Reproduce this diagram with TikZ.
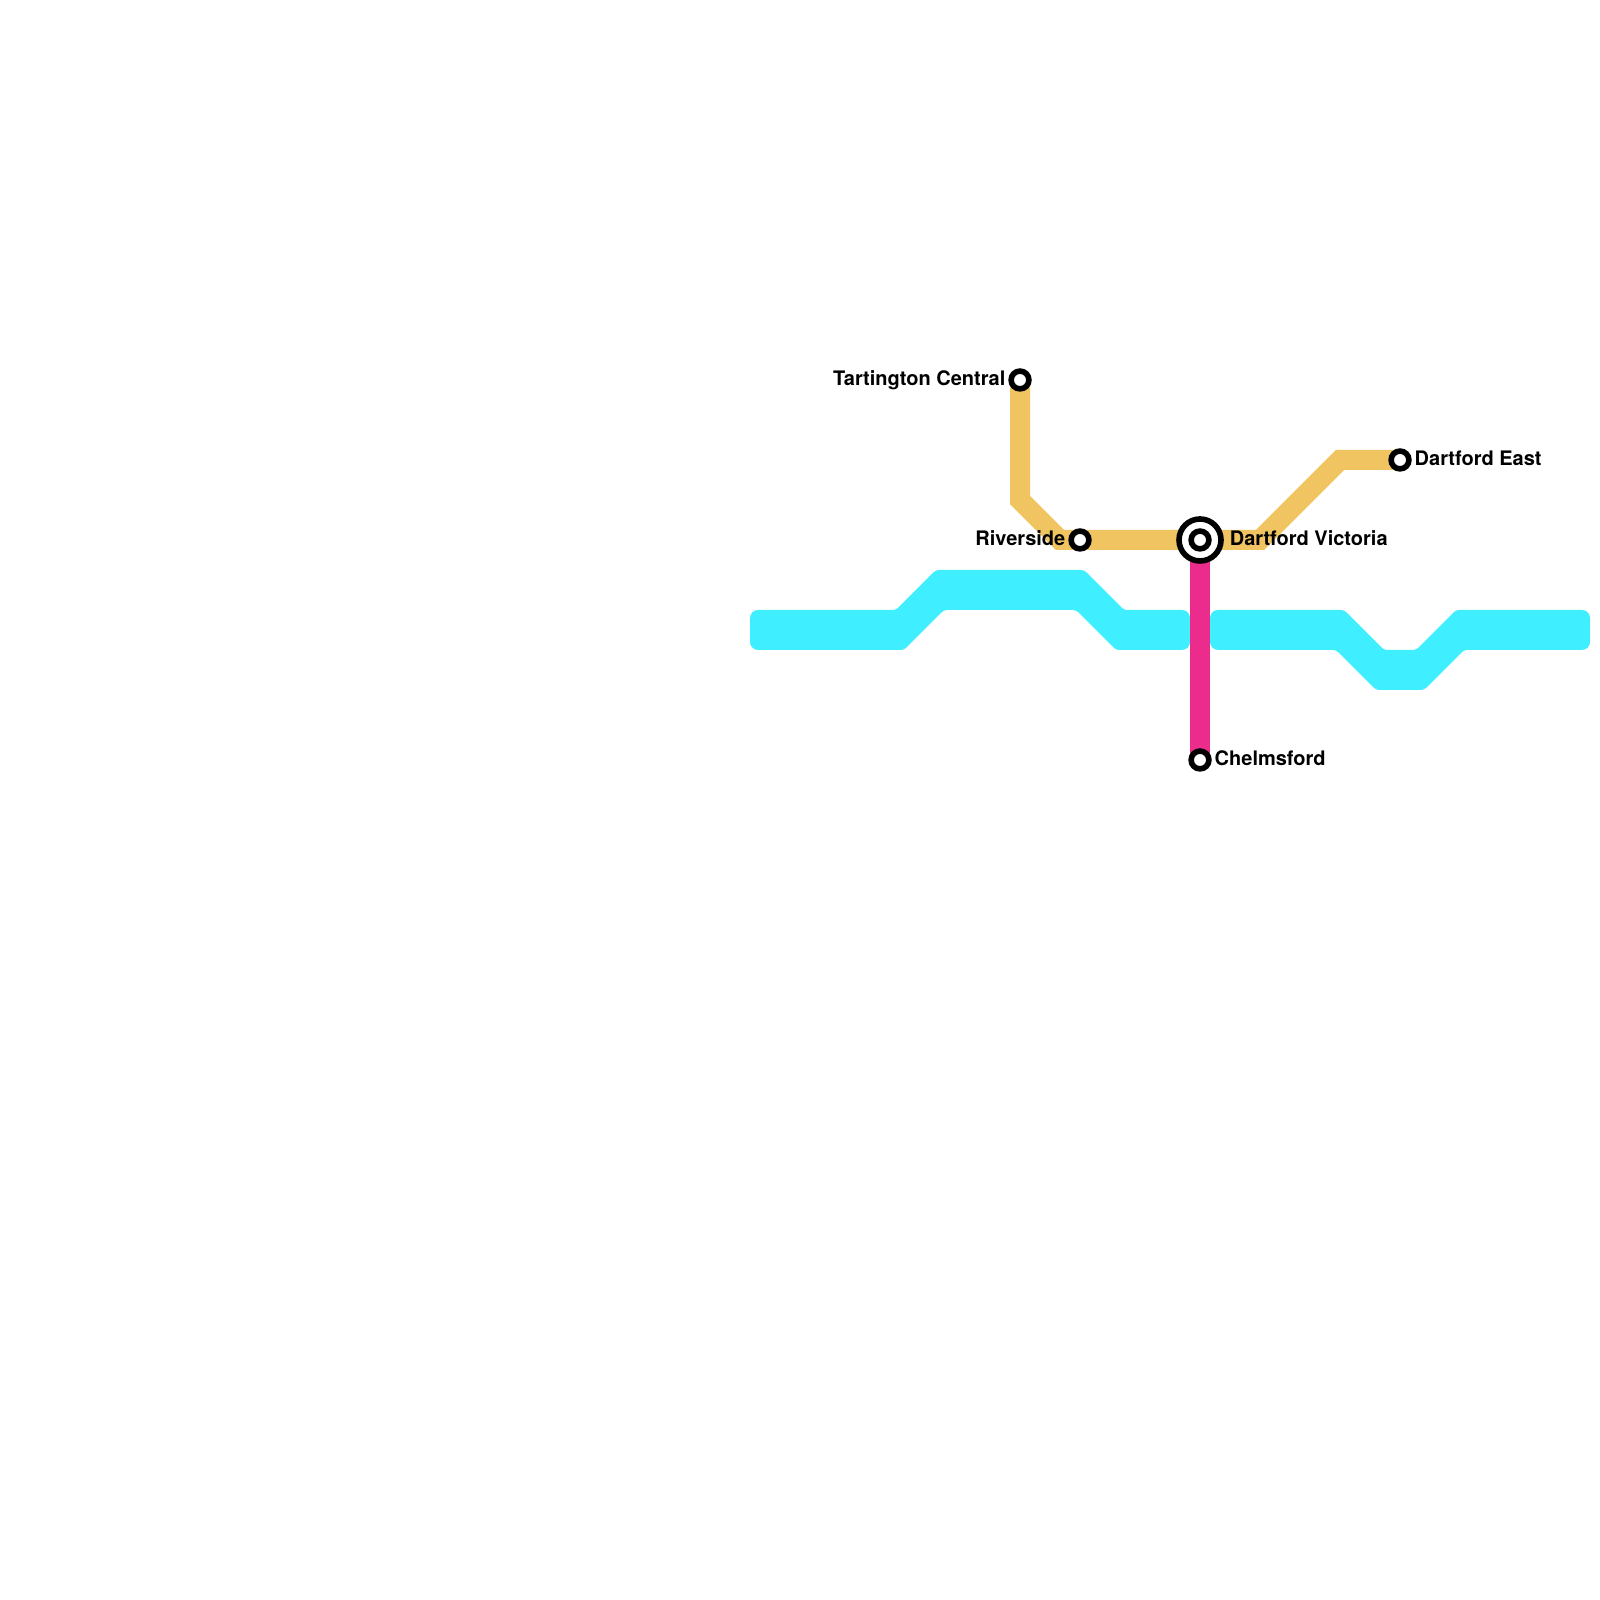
\documentclass[tikz,border=0pt]{standalone}
\usepackage{fontspec}
\setmainfont{TeX Gyre Heros}
\usetikzlibrary{positioning, backgrounds}
\definecolor{tmcyan}{HTML}{3FEEFF}
\definecolor{tmorange}{HTML}{F0C460}
\definecolor{tmpink}{HTML}{EC2C8C}

\begin{document}
\begin{tikzpicture}[
          stn/.style={circle, draw=black, fill=white, line width=0.056cm, minimum size=0.178cm, inner sep=0pt},
          hub/.style={stn, minimum size=0.42cm},
          lbl/.style={font=\fontsize{5.69}{7}\selectfont\bfseries, text=black, inner sep=0pt, outer sep=0pt, text height=0.145cm, text depth=0.04cm, yshift=0.002cm},
          orangeline/.style={draw=tmorange, line width=0.2cm, miter limit=10},
          pinkline/.style={draw=tmpink, line width=0.2cm},
          cyanline/.style={fill=tmcyan, rounded corners=0.03cm},
          capend/.style={rounded corners=0.08cm},
          bendcorner/.style={rounded corners=0.03cm}]
        \useasboundingbox (0,0) rectangle (16,16);
        % stations
        \node[stn] (tartington) at (10.2,12.2) {};
        \node[stn] (riverside) at (10.8,10.6) {};
        \node[hub] (victoriaring) at (12,10.6) {};
        \node[stn] (victoria) at (12,10.6) {};
        \node[stn] (dartfordeast) at (14,11.4) {};
        \node[stn] (chelmsford) at (12,8.4) {};
        \node[lbl, left=0.03cm of tartington] (tartingtonlbl) {Tartington Central};
        \node[lbl, left=0.03cm of riverside] (riversidelbl) {Riverside};
        \node[lbl, right=0.06cm of victoriaring] (victorialbl) {Dartford Victoria};
        \node[lbl, right=0.03cm of dartfordeast] (dartfordeastlbl) {Dartford East};
        \node[lbl, right=0.03cm of chelmsford] (chelmsfordlbl) {Chelmsford};
        \coordinate (bendA) at (10.2,11);
        \coordinate (bendB) at (10.6,10.6);
        \coordinate (bendC) at (12.6,10.6);
        \coordinate (bendD) at (13.4,11.4);
        \begin{scope}[on background layer]
          % river bands
          \path[cyanline] (8,9.9) [capend] -- (7.5,9.9) -- (7.5,9.5) [bendcorner] -- (9.04,9.5) -- (9.44,9.9) -- (10.76,9.9) -- (11.16,9.5) [capend] -- (11.9,9.5) -- (11.9,9.9) [bendcorner] -- (11.24,9.9) -- (10.84,10.3) -- (9.36,10.3) -- (8.96,9.9) -- cycle;
          \path[cyanline] (12.6,9.9) [capend] -- (12.1,9.9) -- (12.1,9.5) [bendcorner] -- (13.36,9.5) -- (13.76,9.1) -- (14.24,9.1) -- (14.64,9.5) [capend] -- (15.9,9.5) -- (15.9,9.9) [bendcorner] -- (14.56,9.9) -- (14.16,9.5) -- (13.84,9.5) -- (13.44,9.9) -- cycle;
          % lines
          \draw[orangeline] (tartington.center) -- (bendA) -- (bendB) -- (riverside.center) -- (victoria.center) -- (bendC) -- (bendD) -- (dartfordeast.center);
          \draw[pinkline] (victoria.center) -- (chelmsford.center);
        \end{scope}
      \end{tikzpicture}
\end{document}
